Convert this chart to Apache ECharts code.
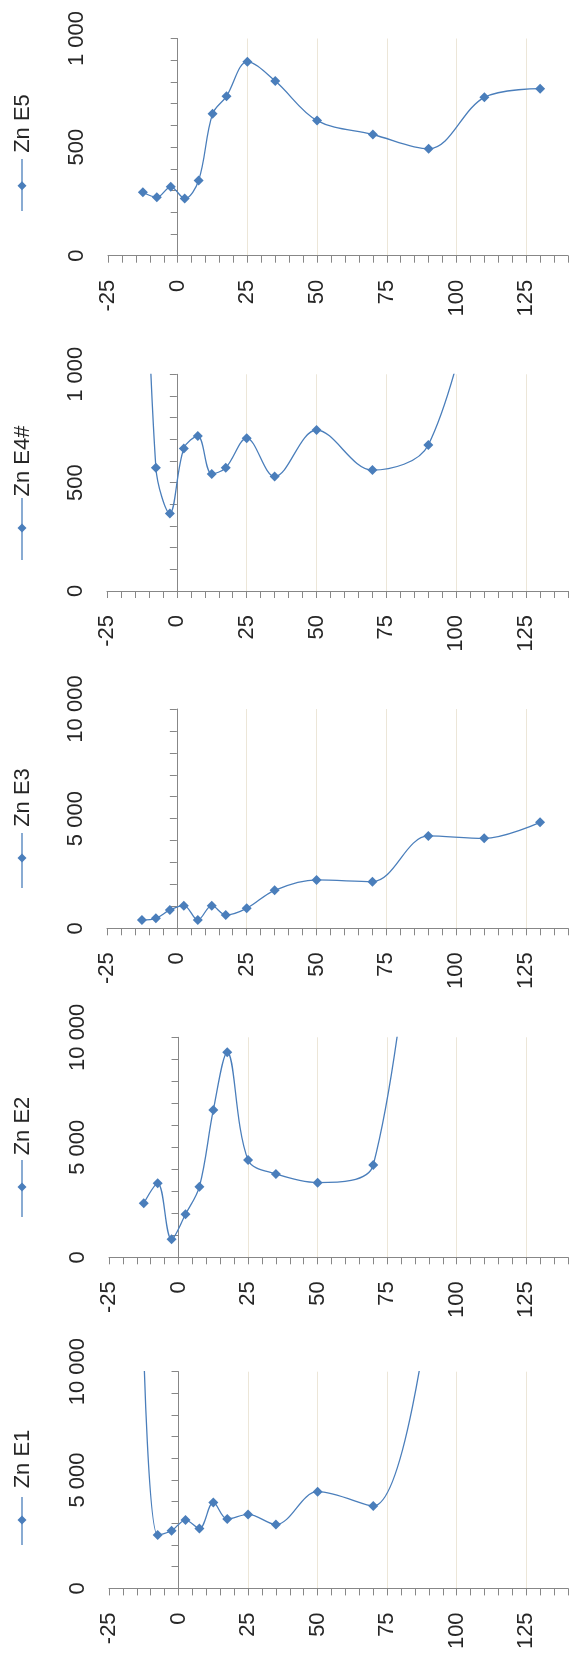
<!DOCTYPE html>
<html>
<head>
<meta charset="utf-8">
<script src="https://cdn.jsdelivr.net/npm/echarts@6/dist/echarts.min.js"></script>
<style>
html,body{margin:0;padding:0;background:#fff;}
#chart{width:571px;height:1668px;}
</style>
</head>
<body>
<div id="chart"></div>
<script>
// ---- data (depth vs Zn concentration) ----
const seriesNames = ['Zn E5', 'Zn E4#', 'Zn E3', 'Zn E2', 'Zn E1'];
const depthE5 = [-12.5, -7.5, -2.5, 2.5, 7.5, 12.5, 17.5, 25, 35, 50, 70, 90, 110, 130];
const znE5 = [292, 269, 317, 263, 346, 653, 734, 893, 804, 622, 558, 492, 729, 769];
const depthE4 = [-12.5, -7.5, -2.5, 2.5, 7.5, 12.5, 17.5, 25, 35, 50, 70, 90, 110];
const znE4 = [2300, 569, 358, 658, 715, 540, 569, 705, 528, 743, 558, 674, 1600];
const depthE3 = [-12.5, -7.5, -2.5, 2.5, 7.5, 12.5, 17.5, 25, 35, 50, 70, 90, 110, 130];
const znE3 = [380, 456, 836, 1033, 380, 1033, 608, 912, 1733, 2204, 2128, 4210, 4103, 4833];
const depthE2 = [-12.5, -7.5, -2.5, 2.5, 7.5, 12.5, 17.5, 25, 35, 50, 70, 90];
const znE2 = [2455, 3364, 818, 1955, 3212, 6697, 9318, 4424, 3788, 3394, 4197, 24000];
const depthE1 = [-12.5, -7.5, -2.5, 2.5, 7.5, 12.5, 17.5, 25, 35, 50, 70, 90];
const znE1 = [11000, 2462, 2662, 3154, 2769, 3969, 3200, 3415, 2954, 4462, 3800, 13000];
const valueMax = [1000, 1000, 10000, 10000, 10000];
const depthMin = -25, depthMax = 140, depthLabelStep = 25, depthLastLabel = 125;

const depths = [depthE5, depthE4, depthE3, depthE2, depthE1];
const values = [znE5, znE4, znE3, znE2, znE1];

// ---- layout ----
const grids = [
  {left: 108, top: 38.5, width: 460, height: 217.2},
  {left: 107, top: 374.3, width: 461, height: 216.7},
  {left: 107, top: 709, width: 461, height: 219.3},
  {left: 109, top: 1037.3, width: 459, height: 220},
  {left: 109, top: 1371.7, width: 459, height: 216.7}
];
const legendPos = [
  {text: 123.5, l1: 159, l2: 211, m: 185.7},
  {text: 461, l1: 498, l2: 560, m: 528},
  {text: 797.5, l1: 833, l2: 888, m: 858},
  {text: 1126, l1: 1160, l2: 1217, m: 1187},
  {text: 1459, l1: 1497, l2: 1545, m: 1520}
];

const BLUE = '#4a7ebb';
const AXIS = '#878787';
const GRIDC = '#ece6d8';
const TXT = '#262626';
const FONT = 'Liberation Sans';
const FS = 22;

function fmtVal(v) {
  return String(v).replace(/\B(?=(\d{3})+(?!\d))/g, ' ');
}

const xAxes = [], yAxes = [], series = [], graphics = [];
grids.forEach((g, i) => {
  xAxes.push({
    type: 'value', gridIndex: i, min: depthMin, max: depthMax, interval: 5,
    position: 'bottom',
    axisLine: {show: true, onZero: false, lineStyle: {color: AXIS, width: 1}},
    axisTick: {show: true, length: 7, lineStyle: {color: AXIS}},
    axisLabel: {
      rotate: 90, margin: 24, fontSize: FS, color: TXT, fontFamily: FONT,
      formatter: v => (Math.abs(v % depthLabelStep) < 1e-9 && v <= depthLastLabel) ? String(v) : ''
    },
    splitLine: {show: false}
  });
  xAxes.push({
    type: 'value', gridIndex: i, min: depthMin, max: depthMax, interval: depthLabelStep,
    position: 'top',
    axisLine: {show: false}, axisTick: {show: false}, axisLabel: {show: false},
    splitLine: {show: true, showMinLine: false, showMaxLine: false, lineStyle: {color: GRIDC, width: 1}}
  });
  const M = valueMax[i];
  yAxes.push({
    type: 'value', gridIndex: i, min: 0, max: M, interval: M / 10,
    axisLine: {show: true, lineStyle: {color: AXIS, width: 1}},
    axisTick: {show: true, length: 7, lineStyle: {color: AXIS}},
    axisLabel: {
      rotate: 90, margin: 20, fontSize: FS, color: TXT, fontFamily: FONT,
      formatter: v => (v % (M / 2) === 0) ? fmtVal(v) : ''
    },
    splitLine: {show: false}
  });
  series.push({
    name: seriesNames[i], type: 'line', xAxisIndex: 2 * i, yAxisIndex: i,
    data: depths[i].map((d, k) => [d, values[i][k]]),
    smooth: 0.35, clip: true,
    symbol: 'diamond', symbolSize: 10,
    lineStyle: {color: BLUE, width: 1.3},
    itemStyle: {color: BLUE},
    animation: false
  });
  const lp = legendPos[i];
  graphics.push({type: 'line', shape: {x1: 22, y1: lp.l1, x2: 22, y2: lp.l2},
    style: {stroke: BLUE, lineWidth: 1.3}});
  graphics.push({type: 'polygon', shape: {points: [[22, lp.m - 4.5], [26.5, lp.m], [22, lp.m + 4.5], [17.5, lp.m]]},
    style: {fill: BLUE}});
  graphics.push({type: 'text', x: 23, y: lp.text, rotation: Math.PI / 2,
    style: {text: seriesNames[i], fontSize: FS, fontFamily: FONT, fill: TXT, align: 'center', verticalAlign: 'middle'}});
});

const chart = echarts.init(document.getElementById('chart'), null, {renderer: 'canvas'});
chart.setOption({
  backgroundColor: '#ffffff',
  animation: false,
  grid: grids,
  xAxis: xAxes,
  yAxis: yAxes,
  series: series,
  graphic: graphics
});
</script>
</body>
</html>
